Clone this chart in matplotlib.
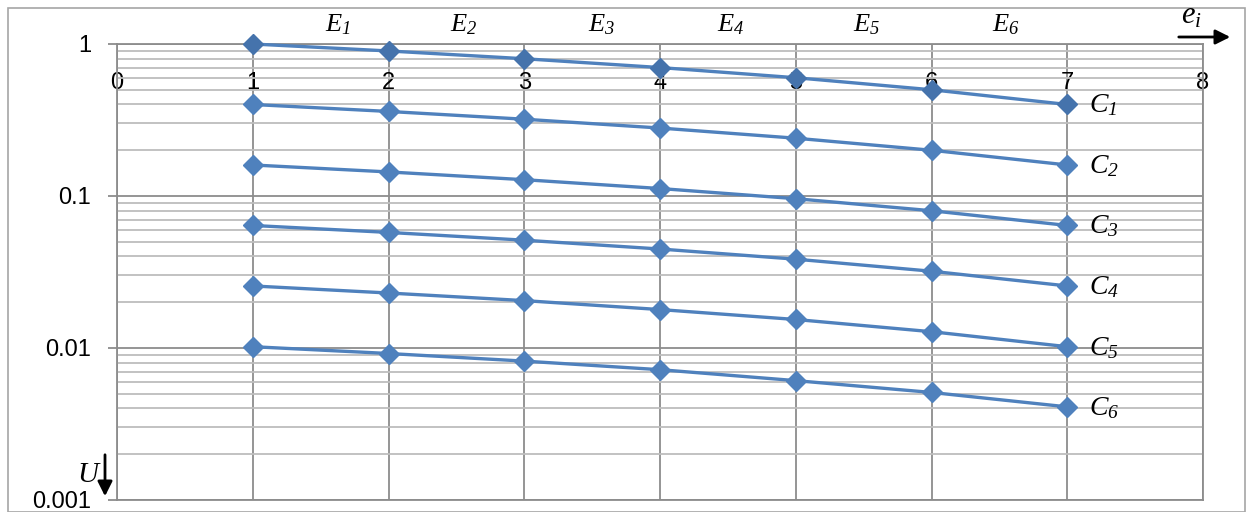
import matplotlib
matplotlib.use("Agg")
import matplotlib.pyplot as plt
from matplotlib.patches import Rectangle, FancyArrowPatch
from matplotlib.ticker import FixedLocator, LogLocator, NullFormatter

plt.rcParams['mathtext.fontset'] = 'custom'
plt.rcParams['mathtext.it'] = 'Liberation Serif:italic'
plt.rcParams['mathtext.rm'] = 'Liberation Serif:italic'
plt.rcParams['mathtext.default'] = 'it'

x = [1, 2, 3, 4, 5, 6, 7]
series_names = ["C", "C", "C", "C", "C", "C"]
series_subs = ["1", "2", "3", "4", "5", "6"]
C1 = [1.0, 0.9, 0.8, 0.7, 0.6, 0.5, 0.4]
C2 = [0.4, 0.36, 0.32, 0.28, 0.24, 0.2, 0.16]
C3 = [0.16, 0.144, 0.128, 0.112, 0.096, 0.08, 0.064]
C4 = [0.064, 0.0576, 0.0512, 0.0448, 0.0384, 0.032, 0.0256]
C5 = [0.0256, 0.023, 0.0205, 0.0179, 0.0154, 0.0128, 0.0102]
C6 = [0.0102, 0.0092, 0.0082, 0.0072, 0.0061, 0.0051, 0.0041]
series = [C1, C2, C3, C4, C5, C6]
e_subs = ["1", "2", "3", "4", "5", "6"]
e_pos = [1.63, 2.55, 3.57, 4.52, 5.52, 6.55]
xticks = [0, 1, 2, 3, 4, 5, 6, 7, 8]
yticks = [0.001, 0.01, 0.1, 1]
ytick_labels = ["0.001", "0.01", "0.1", "1"]

W, H = 1247, 512
fig = plt.figure(figsize=(W / 100, H / 100), dpi=100)
ax = fig.add_axes([117 / W, 1 - 500 / H, (1203 - 117) / W, (500 - 44) / H])

line_col = '#4F81BD'
for i, s in enumerate(series):
    mcol = '#4573AC' if i == 0 else line_col
    ax.plot(x, s, color=line_col, lw=2.4, marker='D', ms=10.5,
            markerfacecolor=mcol, markeredgecolor=mcol, zorder=3, clip_on=False)
    ax.text(7.16, s[-1], r'$%s_{%s}$' % (series_names[i], series_subs[i]),
            fontsize=20, va='center', ha='left', zorder=4)

ax.set_yscale('log')
ax.set_ylim(0.001, 1)
ax.set_xlim(0, 8)
ax.yaxis.set_major_locator(FixedLocator(yticks))
ax.set_yticklabels(ytick_labels)
ax.yaxis.set_minor_locator(LogLocator(base=10, subs=range(2, 10)))
ax.yaxis.set_minor_formatter(NullFormatter())
ax.set_xticks(xticks)
ax.set_xticklabels([str(t) for t in xticks])

ax.grid(True, which='major', axis='both', color='#8C8C8C', lw=1.3)
ax.grid(True, which='minor', axis='y', color='#BDBDBD', lw=1.3)

for sp in ax.spines.values():
    sp.set_color('#8C8C8C')
    sp.set_linewidth(1.3)

ax.tick_params(axis='y', which='major', length=6.5, width=1.3, color='#8C8C8C',
               labelsize=17, pad=12)
ax.tick_params(axis='y', which='minor', length=0)
ax.tick_params(axis='x', which='both', top=True, bottom=False, labeltop=True,
               labelbottom=False, length=0, labelsize=17, pad=-36)
for lab in ax.get_xticklabels() + ax.get_yticklabels():
    lab.set_fontfamily('Liberation Sans')

# E labels above the plot
for sub, p in zip(e_subs, e_pos):
    ax.text(p, 1.015, r'$E_{%s}$' % sub, transform=ax.get_xaxis_transform(),
            fontsize=19, ha='center', va='bottom')

# e_i arrow label
fig.text(1191 / W, 1 - 15 / H, r'$e_{i}$', fontsize=22, ha='center', va='center')
fig.add_artist(FancyArrowPatch(
    (1176 / W, 1 - 37 / H), (1233 / W, 1 - 37 / H), transform=fig.transFigure,
    arrowstyle='-|>', mutation_scale=22, color='black', lw=2.0))

# U arrow label
fig.text(89 / W, 1 - 474 / H, r'$U$', fontsize=21, ha='center', va='center')
fig.add_artist(FancyArrowPatch(
    (105 / W, 1 - 452 / H), (105 / W, 1 - 499 / H), transform=fig.transFigure,
    arrowstyle='-|>', mutation_scale=22, color='black', lw=2.0))

# outer border
fig.add_artist(Rectangle((8 / W, 0), (1245 - 8) / W, 1 - 8 / H,
                         transform=fig.transFigure, fill=False,
                         edgecolor='#A6A6A6', lw=1.2))

fig.savefig('out.png', dpi=100)
